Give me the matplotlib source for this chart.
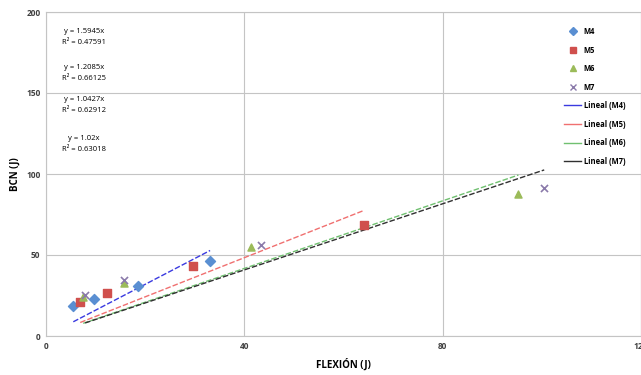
import matplotlib.pyplot as plt
from matplotlib.lines import Line2D

plt.rcParams['font.family'] = ['Open Sans', 'DejaVu Sans']

# data
m4_x = [5.5, 9.7, 18.6, 33.1]
m4_y = [18.4, 23.0, 31.0, 46.0]
m5_x = [6.9, 12.3, 29.6, 64.1]
m5_y = [20.7, 26.8, 43.0, 68.7]
m6_x = [7.5, 15.8, 41.4, 95.3]
m6_y = [24.1, 32.7, 54.8, 87.5]
m7_x = [7.9, 15.8, 43.3, 100.5]
m7_y = [25.6, 34.4, 56.4, 91.6]

slopes = [1.5945, 1.2085, 1.0427, 1.02]
r2 = ["0.47591", "0.66125", "0.62912", "0.63018"]
names = ["M4", "M5", "M6", "M7"]

point_colors = ["#5a8fd2", "#d0504d", "#9bbb59", "#8a7aaa"]
markers = ["D", "s", "^", "x"]
line_colors = ["#3a3ae0", "#f07070", "#70c070", "#303030"]

fig = plt.figure(figsize=(6.41, 3.75), dpi=100)
ax = fig.add_axes([0.0718, 0.104, 0.928, 0.864])

series = [(m4_x, m4_y), (m5_x, m5_y), (m6_x, m6_y), (m7_x, m7_y)]
for (xs, ys), c, m, n in zip(series, point_colors, markers, names):
    if m == "x":
        ax.scatter(xs, ys, marker=m, color=c, s=26, linewidths=1.2, zorder=3)
    else:
        ax.scatter(xs, ys, marker=m, color=c, s=26, zorder=3)

for (xs, ys), k, c in zip(series, slopes, line_colors):
    x0, x1 = min(xs), max(xs)
    ax.plot([x0, x1], [k * x0, k * x1], color=c, lw=1.0, ls=(0, (4, 1.5)), zorder=2)

# trendline equations
eq_y = [188, 166, 146, 122]
for k, r, yy in zip(slopes, r2, eq_y):
    ax.text(7.6, yy, "y = %sx" % k, fontsize=5.5, ha="center", va="center")
    ax.text(7.6, yy - 6.8, "R² = %s" % r, fontsize=5.5, ha="center", va="center")

ax.set_xlim(0, 120)
ax.set_ylim(0, 200)
ax.set_xticks([0, 40, 80, 120])
ax.set_yticks([0, 50, 100, 150, 200])
ax.grid(True, color="#c4c4c4", lw=0.8)
ax.set_axisbelow(True)
for s in ax.spines.values():
    s.set_color("#c4c4c4")
    s.set_linewidth(0.8)
ax.tick_params(labelsize=6, length=0, pad=4, colors="#404040")
for lab in ax.get_xticklabels() + ax.get_yticklabels():
    lab.set_fontweight("bold")
ax.set_xlabel("FLEXIÓN (J)", fontsize=7, fontweight="bold", labelpad=6)
ax.set_ylabel("BCN (J)", fontsize=7, fontweight="bold", labelpad=4)

handles = []
for c, m, n in zip(point_colors, markers, names):
    handles.append(Line2D([], [], ls="none", marker=m, color=c, markersize=4, label=n))
for c, n in zip(line_colors, names):
    handles.append(Line2D([], [], color=c, lw=1.0, label="Lineal (%s)" % n))
leg = ax.legend(handles=handles, loc="upper left", bbox_to_anchor=(0.86, 0.975),
                frameon=False, fontsize=5.5, labelspacing=1.25, handlelength=2.2,
                handletextpad=0.3)
for t in leg.get_texts():
    t.set_fontweight("bold")

fig.savefig("out.png", dpi=100)
